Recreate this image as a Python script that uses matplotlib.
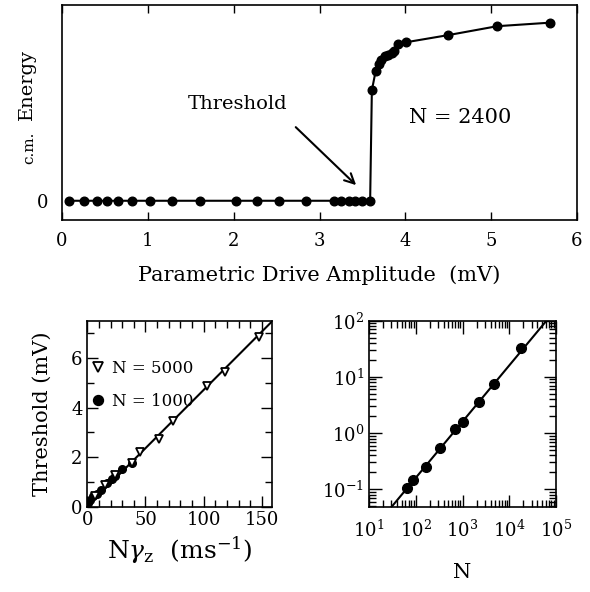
import numpy as np
import matplotlib
matplotlib.use("Agg")
import matplotlib.pyplot as plt
from matplotlib.ticker import MultipleLocator, LogLocator, NullFormatter

plt.rcParams['font.family'] = ['DejaVu Serif']
plt.rcParams['mathtext.fontset'] = 'dejavuserif'

# === DATEN ===

# Oben: c.m. Energie vs. parametrische Antriebsamplitude (N = 2400)
drive_mV = [0.08, 0.26, 0.41, 0.52, 0.65, 0.81, 1.02, 1.28, 1.61, 2.03, 2.27, 2.53, 2.84,
            3.17, 3.25, 3.34, 3.41, 3.50, 3.59,
            3.61, 3.655, 3.69, 3.72, 3.76, 3.80, 3.84, 3.87, 3.91, 4.01, 4.50, 5.07, 5.69]
energy = [0, 0, 0, 0, 0, 0, 0, 0, 0, 0, 0, 0, 0,
          0, 0, 0, 0, 0, 0,
          0.62, 0.73, 0.77, 0.79, 0.81, 0.82, 0.83, 0.84, 0.88, 0.89, 0.93, 0.98, 1.00]

# Unten links: Schwelle vs. N*gamma_z
ngam_5000 = [6.5, 15, 23.5, 38, 45, 62, 73.5, 102.5, 118.5, 148]
thr_5000 = [0.41, 0.88, 1.26, 1.76, 2.2, 2.74, 3.45, 4.86, 5.45, 6.86]
ngam_1000 = [0.5, 2.3, 5, 8, 11.5, 17, 21, 24, 30, 38]
thr_1000 = [0.15, 0.27, 0.41, 0.52, 0.68, 0.95, 1.11, 1.24, 1.53, 1.76]
fit_ngam = [0, 158.5]
fit_thr = [0, 7.47]

# Unten rechts: Schwelle vs. N (log-log)
n_ions = [64, 86, 166, 332, 697, 1000, 2275, 4617, 18070]
thr_n = [0.104, 0.147, 0.254, 0.537, 1.17, 1.56, 3.53, 7.48, 32.2]
fit_n = [30, 62500]
fit_thr_n = [0.048, 100]

W, H = 590, 592
fig = plt.figure(figsize=(W / 100, H / 100), dpi=100)

def box(l, t, r, b):
    return [l / W, 1 - b / H, (r - l) / W, (b - t) / H]

# === OBERER PLOT ===
ax = fig.add_axes(box(62, 5, 577, 220))
ax.plot(drive_mV, energy, color='black', lw=1.5, marker='o', ms=6.2)
ax.set_xlim(0, 6)
ax.set_ylim(-0.108, 1.099)
ax.set_xticks(range(7))
ax.set_yticks([0])
ax.tick_params(axis='x', direction='in', top=True, length=6, width=1, labelsize=13, pad=9)
ax.tick_params(axis='y', length=0, labelsize=13, pad=10)
ax.set_xlabel('Parametric Drive Amplitude  (mV)', fontsize=15, labelpad=11)
ax.annotate('', xy=(3.45, 0.077), xytext=(2.70, 0.424),
            arrowprops=dict(arrowstyle='->,head_length=0.7,head_width=0.35', lw=1.5, color='black'))
ax.text(2.04, 0.546, 'Threshold', fontsize=14, ha='center', va='center')
ax.text(4.64, 0.47, 'N = 2400', fontsize=15, ha='center', va='center')
fig.text(27 / W, 1 - 84 / H, 'Energy', rotation=90, fontsize=14, ha='center', va='center')
fig.text(29 / W, 1 - 148 / H, 'c.m.', rotation=90, fontsize=11, ha='center', va='center')

# === UNTEN LINKS ===
ax2 = fig.add_axes(box(87.3, 321, 271.7, 506.5))
ax2.plot(fit_ngam, fit_thr, color='black', lw=1.5)
ax2.plot(ngam_1000, thr_1000, 'o', color='black', ms=5.5, label='N = 1000')
ax2.plot(ngam_5000, thr_5000, 'v', mfc='white', mec='black', mew=1.3, ms=5.5, label='N = 5000')
ax2.set_xlim(0, 158.5)
ax2.set_ylim(0, 7.5)
ax2.xaxis.set_major_locator(MultipleLocator(50))
ax2.xaxis.set_minor_locator(MultipleLocator(10))
ax2.yaxis.set_major_locator(MultipleLocator(2))
ax2.yaxis.set_minor_locator(MultipleLocator(1))
ax2.tick_params(which='both', direction='in', top=True, right=True, width=1, labelsize=13)
ax2.tick_params(which='major', length=8)
ax2.tick_params(which='minor', length=5)
ax2.set_xlabel(r'N$\gamma_{\rm z}$  (ms$^{-1}$)', fontsize=18, labelpad=4)
ax2.set_ylabel('Threshold (mV)', fontsize=15, labelpad=14)
h, l = ax2.get_legend_handles_labels()
leg = ax2.legend(h[::-1], l[::-1], loc='upper left', bbox_to_anchor=(-0.02, 0.825), frameon=False,
                 fontsize=12, handlelength=0.9, handletextpad=0.4, labelspacing=0.95,
                 borderaxespad=0, markerscale=1.3)

# === UNTEN RECHTS ===
ax3 = fig.add_axes(box(369, 320.7, 556, 506.7))
ax3.plot(fit_n, fit_thr_n, color='black', lw=1.5)
ax3.plot(n_ions, thr_n, 'o', color='black', ms=7)
ax3.set_xscale('log')
ax3.set_yscale('log')
ax3.set_xlim(10, 1e5)
ax3.set_ylim(0.049, 100)
for a in (ax3.xaxis, ax3.yaxis):
    a.set_major_locator(LogLocator(base=10, numticks=10))
    a.set_minor_locator(LogLocator(base=10, subs=np.arange(2, 10), numticks=10))
    a.set_minor_formatter(NullFormatter())
ax3.tick_params(which='both', direction='in', top=True, right=True, width=1, labelsize=13)
ax3.tick_params(which='major', length=9)
ax3.tick_params(which='minor', length=5)
ax3.tick_params(axis='x', pad=9)
ax3.set_xlabel('N', fontsize=15, labelpad=16)

for a in (ax, ax2, ax3):
    for s in a.spines.values():
        s.set_linewidth(1.2)

plt.savefig('out.png', dpi=100)
